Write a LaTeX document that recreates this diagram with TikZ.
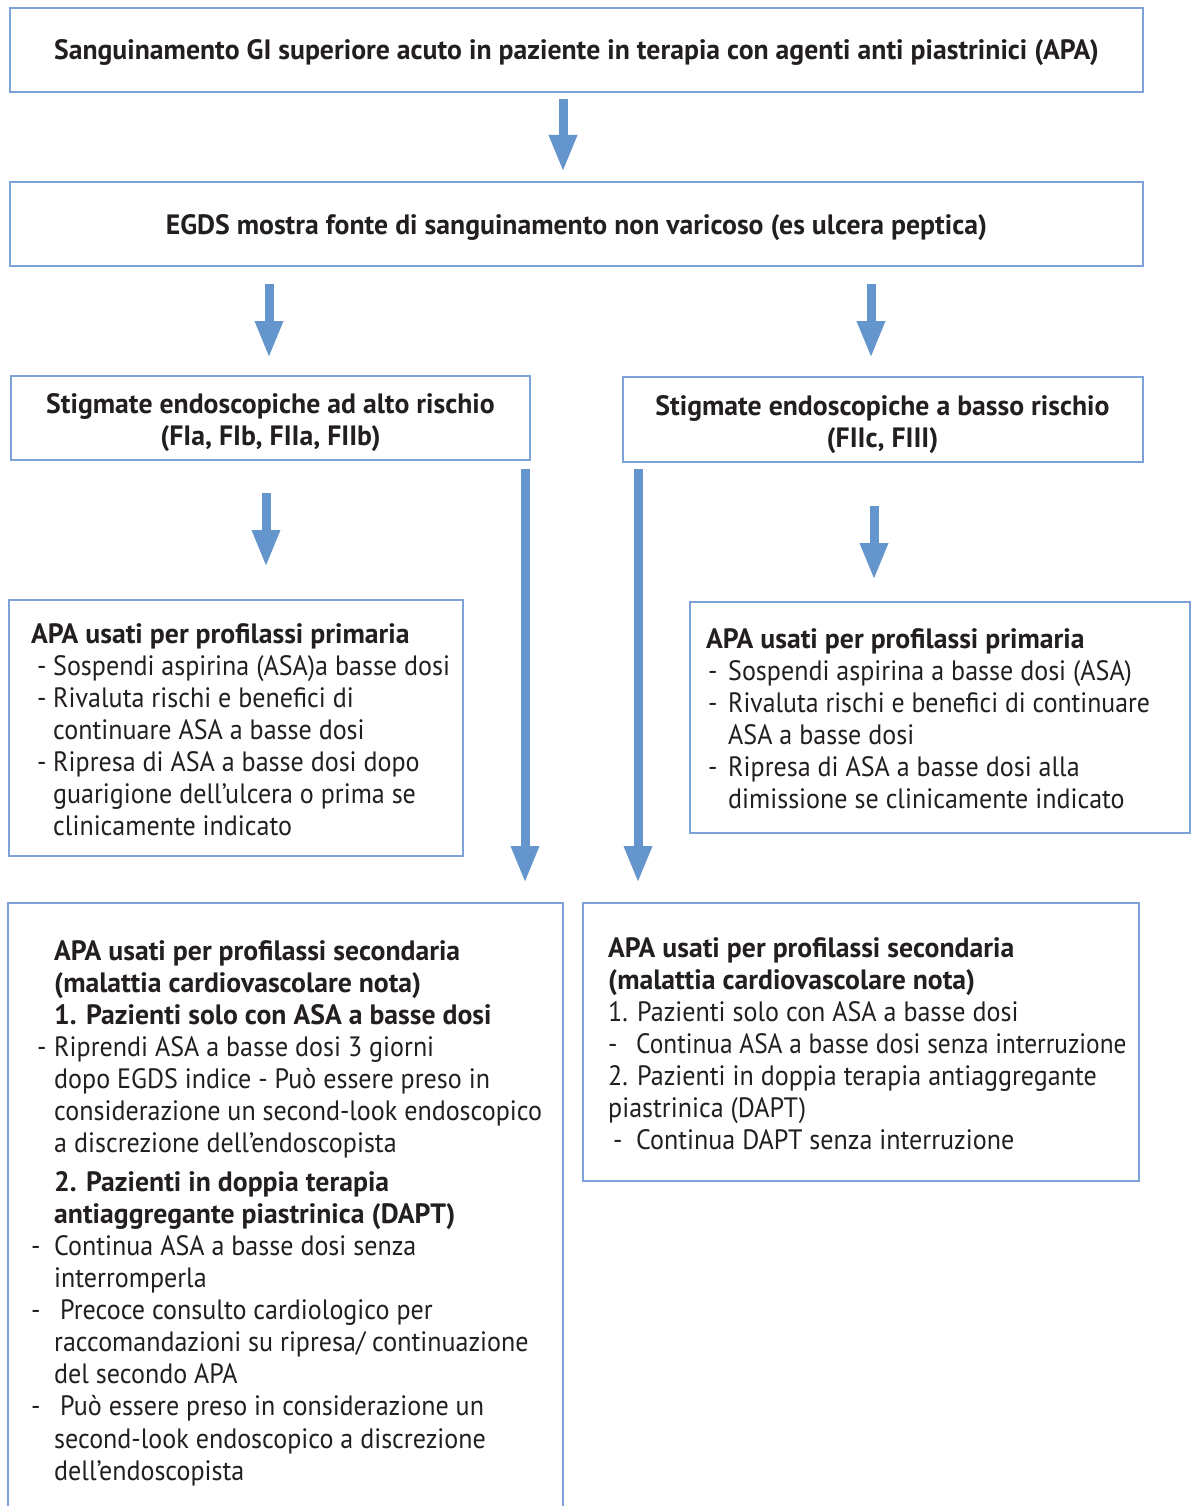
\documentclass[tikz,border=0pt]{standalone}
\usepackage{fontspec}
\setmainfont{PT Sans}[FakeStretch=0.93]
\newfontfamily\boldfam{PT Sans}[FakeStretch=0.99]
\usetikzlibrary{arrows.meta}
\definecolor{arr}{RGB}{100,149,204}
\definecolor{bord}{RGB}{125,163,214}
\definecolor{ink}{RGB}{35,31,32}
\begin{document}
\begin{tikzpicture}[x=1pt,y=-1pt,
  box/.style={draw=bord,line width=1.3pt,rectangle,inner sep=0pt,outer sep=0pt},
  tl/.style={anchor=base west,inner sep=0pt,text=ink,font=\fontsize{28}{32}\selectfont},
  tb/.style={anchor=base west,inner sep=0pt,text=ink,font=\boldfam\fontsize{28}{32}\selectfont\bfseries},
  tc/.style={anchor=base,inner sep=0pt,text=ink,font=\boldfam\fontsize{28}{32}\selectfont\bfseries},
  bigarrow/.style={draw=arr,line width=9pt,-{Triangle[width=26pt,length=37pt]}}
]
\clip (0,0) rectangle (1195,1506);
\fill[white] (0,0) rectangle (1195,1506);

% boxes
\node[box,minimum width=1133pt,minimum height=84pt] (b1) at (576.5,50) {};
\node[box,minimum width=1133pt,minimum height=84pt] (b2) at (576.5,224) {};
\node[box,minimum width=519pt,minimum height=84pt] (b3) at (270.5,418) {};
\node[box,minimum width=520pt,minimum height=85pt] (b4) at (883,419.5) {};
\node[box,minimum width=454pt,minimum height=256pt] (b5) at (236,728) {};
\node[box,minimum width=500pt,minimum height=231pt] (b6) at (940,717.5) {};
\node[box,minimum width=555pt,minimum height=627pt] (b7) at (285.5,1216.5) {};
\node[box,minimum width=556pt,minimum height=278pt] (b8) at (861,1042) {};

% arrows
\coordinate (a1s) at (563,99);  \coordinate (a1e) at (563,172);
\coordinate (a2s) at (269,284); \coordinate (a2e) at (269,358);
\coordinate (a3s) at (871,284); \coordinate (a3e) at (871,358);
\coordinate (a4s) at (266,493); \coordinate (a4e) at (266,567);
\coordinate (a5s) at (874,506); \coordinate (a5e) at (874,580);
\coordinate (a6s) at (525,469); \coordinate (a6e) at (525,883);
\coordinate (a7s) at (638,469); \coordinate (a7e) at (638,883);
\draw[bigarrow] (a1s) -- (a1e);
\draw[bigarrow] (a2s) -- (a2e);
\draw[bigarrow] (a3s) -- (a3e);
\draw[bigarrow] (a4s) -- (a4e);
\draw[bigarrow] (a5s) -- (a5e);
\draw[bigarrow] (a6s) -- (a6e);
\draw[bigarrow] (a7s) -- (a7e);

% box 1, 2
\node[tc] (t1) at (576.5,60) {Sanguinamento GI superiore acuto in paziente in terapia con agenti anti piastrinici (APA)};
\node[tc] (t2) at (576.5,235) {EGDS mostra fonte di sanguinamento non varicoso (es ulcera peptica)};
% box 3, 4
\node[tc] (t3a) at (270.5,413) {Stigmate endoscopiche ad alto rischio};
\node[tc] (t3b) at (270.5,445) {(FIa, FIb, FIIa, FIIb)};
\node[tc] (t4a) at (882.5,415) {Stigmate endoscopiche a basso rischio};
\node[tc] (t4b) at (882.5,447) {(FIIc, FIII)};

% box 5
\node[tb] (t5a) at (31,643) {APA usati per profilassi primaria};
\node[tl] (d5b) at (37,675) {-};
\node[tl] (t5b) at (53,675) {Sospendi aspirina (ASA)a basse dosi};
\node[tl] (d5c) at (37,707) {-};
\node[tl] (t5c) at (53,707) {Rivaluta rischi e benefici di};
\node[tl] (t5d) at (53,739) {continuare ASA a basse dosi};
\node[tl] (d5e) at (37,771) {-};
\node[tl] (t5e) at (53,771) {Ripresa di ASA a basse dosi dopo};
\node[tl] (t5f) at (53,803) {guarigione dell’ulcera o prima se};
\node[tl] (t5g) at (53,835) {clinicamente indicato};

% box 6
\node[tb] (t6a) at (706,648) {APA usati per profilassi primaria};
\node[tl] (d6b) at (708,680) {-};
\node[tl] (t6b) at (728,680) {Sospendi aspirina a basse dosi (ASA)};
\node[tl] (d6c) at (708,712) {-};
\node[tl] (t6c) at (728,712) {\scalebox{0.99}[1]{Rivaluta rischi e benefici di continuare}};
\node[tl] (t6d) at (728,744) {ASA a basse dosi};
\node[tl] (d6e) at (708,776) {-};
\node[tl] (t6e) at (728,776) {Ripresa di ASA a basse dosi alla};
\node[tl] (t6f) at (728,808) {dimissione se clinicamente indicato};

% box 7
\node[tb] (t7a) at (54,960) {APA usati per profilassi secondaria};
\node[tb] (t7b) at (54,992) {(malattia cardiovascolare nota)};
\node[tb] (t7c) at (54,1024) {1. Pazienti solo con ASA a basse dosi};
\node[tl] (d7d) at (37,1056) {-};
\node[tl] (t7d) at (54,1056) {Riprendi ASA a basse dosi 3 giorni};
\node[tl] (t7e) at (54,1088) {dopo EGDS indice - Può essere preso in};
\node[tl] (t7f) at (54,1120) {considerazione un second-look endoscopico};
\node[tl] (t7g) at (54,1152) {a discrezione dell’endoscopista};
\node[tb] (t7h) at (54,1191) {2. Pazienti in doppia terapia};
\node[tb] (t7i) at (54,1223) {antiaggregante piastrinica (DAPT)};
\node[tl] (d7j) at (31,1255) {-};
\node[tl] (t7j) at (54,1255) {Continua ASA a basse dosi senza};
\node[tl] (t7k) at (54,1287) {interromperla};
\node[tl] (d7l) at (31,1319) {-};
\node[tl] (t7l) at (60,1319) {Precoce consulto cardiologico per};
\node[tl] (t7m) at (54,1351) {raccomandazioni su ripresa/ continuazione};
\node[tl] (t7n) at (54,1383) {del secondo APA};
\node[tl] (d7o) at (31,1415) {-};
\node[tl] (t7o) at (60,1415) {Può essere preso in considerazione un};
\node[tl] (t7p) at (54,1448) {second-look endoscopico a discrezione};
\node[tl] (t7q) at (54,1480) {dell’endoscopista};

% box 8
\node[tb] (t8a) at (608,957) {APA usati per profilassi secondaria};
\node[tb] (t8b) at (608,989) {(malattia cardiovascolare nota)};
\node[tl] (t8c) at (608,1021) {1. Pazienti solo con ASA a basse dosi};
\node[tl] (d8d) at (608,1053) {-};
\node[tl] (t8d) at (636,1053) {\scalebox{0.973}[1]{Continua ASA a basse dosi senza interruzione}};
\node[tl] (t8e) at (608,1085) {2. Pazienti in doppia terapia antiaggregante};
\node[tl] (t8f) at (608,1117) {piastrinica (DAPT)};
\node[tl] (d8g) at (613,1149) {-};
\node[tl] (t8g) at (636,1149) {Continua DAPT senza interruzione};
\end{tikzpicture}
\end{document}
